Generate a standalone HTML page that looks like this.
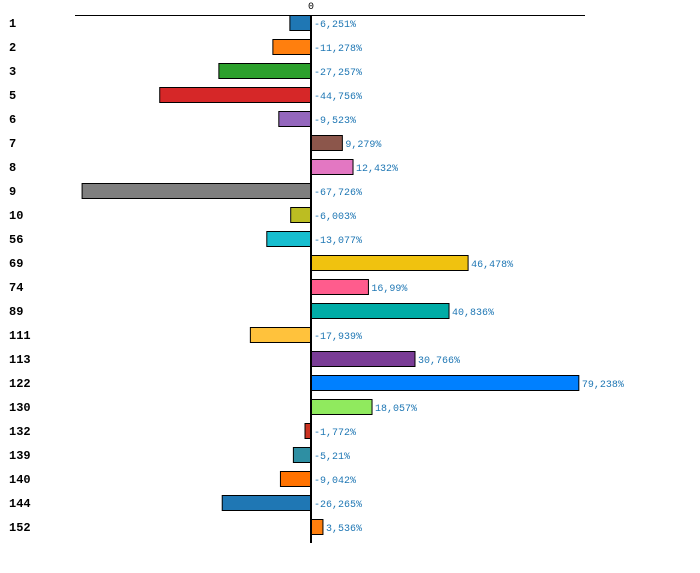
<!DOCTYPE html>
<html><head><meta charset="utf-8"><style>
html,body{margin:0;padding:0;background:#fff;}
svg{display:block;font-family:"Liberation Mono",monospace;}
</style></head><body>
<svg id="chart" width="700" height="573" xmlns="http://www.w3.org/2000/svg">
<line x1="75" y1="15.5" x2="585" y2="15.5" stroke="#000" stroke-width="1"/>
<text x="311" y="9" font-size="10" text-anchor="middle">0</text>
<g id="bars"></g>
<line x1="311" y1="15" x2="311" y2="543" stroke="#000" stroke-width="2"/>
</svg>
<script>
const categories = ["1","2","3","5","6","7","8","9","10","56","69","74","89","111","113","122","130","132","139","140","144","152"];
const values = [-6.251,-11.278,-27.257,-44.756,-9.523,9.279,12.432,-67.726,-6.003,-13.077,46.478,16.99,40.836,-17.939,30.766,79.238,18.057,-1.772,-5.21,-9.042,-26.265,3.536];
const labels = ["-6,251%","-11,278%","-27,257%","-44,756%","-9,523%","9,279%","12,432%","-67,726%","-6,003%","-13,077%","46,478%","16,99%","40,836%","-17,939%","30,766%","79,238%","18,057%","-1,772%","-5,21%","-9,042%","-26,265%","3,536%"];
const colors = ["#1f77b4","#ff7f0e","#2ca02c","#d62728","#9467bd","#8c564b","#e377c2","#7f7f7f","#bcbd22","#17becf","#f0c20f","#ff5c8d","#00aca6","#ffc23c","#7a3c96","#0080ff","#90ea5e","#cc3322","#2e8fa3","#ff7200","#1f77b4","#ff7f0e"];
const x0 = 311, k = 3.38;
function xs(v){ return x0 + v*k; }
function ys(i){ return 15 + i*24; }
const g = document.getElementById('bars');
const NS = "http://www.w3.org/2000/svg";
categories.forEach((c,i)=>{
  const v = values[i];
  const r = document.createElementNS(NS,'rect');
  
  
  const a = Math.min(xs(0), xs(v)), w = Math.abs(xs(v)-xs(0));
  r.setAttribute('x', a); r.setAttribute('y', ys(i)+0.5);
  r.setAttribute('width', w); r.setAttribute('height', 15);
  r.setAttribute('fill', colors[i]); r.setAttribute('stroke', '#000'); r.setAttribute('stroke-width', 1);
  g.appendChild(r);
  const t = document.createElementNS(NS,'text');
  
  
  t.setAttribute('x', 9); t.setAttribute('y', ys(i)+12);
  t.setAttribute('font-size', 12); t.setAttribute('font-weight', 'bold');
  t.textContent = c; g.appendChild(t);
  const vl = document.createElementNS(NS,'text');
  
  
  vl.setAttribute('x', v > 0 ? xs(v)+3 : x0+3); vl.setAttribute('y', ys(i)+12);
  vl.setAttribute('font-size', 10); vl.setAttribute('fill', '#1f77b4');
  vl.textContent = labels[i]; g.appendChild(vl);
});
</script>
</body></html>
